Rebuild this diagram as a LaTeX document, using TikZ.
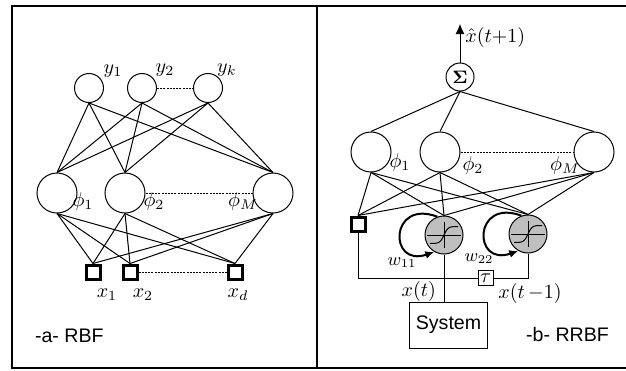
\documentclass[tikz,border=0pt]{standalone}
\usepackage{fontspec}
\setsansfont{Liberation Sans}
\usepackage{amsmath}
\usetikzlibrary{arrows.meta}

\begin{document}
\begin{tikzpicture}[x=0.5pt,y=-0.5pt,
    unit/.style={circle,draw,line width=0.5pt,inner sep=0pt,minimum size=20pt},
    outunit/.style={circle,draw,line width=0.5pt,inner sep=0pt,minimum size=14.5pt},
    inunit/.style={rectangle,draw,line width=1.5pt,inner sep=0pt,minimum size=7pt},
    sigunit/.style={circle,draw,line width=0.5pt,fill=black!25,inner sep=0pt,minimum size=19pt},
    wire/.style={line width=0.5pt},
    dots/.style={line width=0.5pt,dash pattern=on 1pt off 0.6pt},
    loopar/.style={line width=1pt,-{Latex[length=4.5pt,width=4pt]}},
    caption/.style={font=\sffamily\fontsize{9.8}{12}\selectfont}]
    \useasboundingbox (0,0) rectangle (626,370);
    % frame
    \draw[line width=1pt] (626,6) -| (12,368) -- (626,368);
    \draw[line width=1.2pt] (317,6) -- (317,368);

    % -a- RBF
    \node[outunit] (y1) at (89,88) {};
    \node[outunit] (y2) at (142,88) {};
    \node[outunit] (yk) at (208,88) {};
    \node[unit] (h1) at (57,193) {};
    \node[unit] (h2) at (125,193) {};
    \node[unit] (hM) at (273,193) {};
    \node[inunit] (x1) at (93,272) {};
    \node[inunit] (x2) at (130,272) {};
    \node[inunit] (xd) at (235,272) {};
    \foreach \a in {y1,y2,yk}
        \foreach \b in {h1,h2,hM}
            \draw[wire] (\a.south) -- (\b.north);
    \foreach \a in {h1,h2,hM}
        \foreach \b in {x1,x2,xd}
            \draw[wire] (\a.south) -- (\b.north);
    \draw[dots] (y2) -- (yk);
    \draw[dots] (h2) -- (hM);
    \draw[dots] (x2) -- (xd);
    \node (ly1) at (113,71) {$y_1$};
    \node (ly2) at (165,70) {$y_2$};
    \node (lyk) at (227,70) {$y_k$};
    \node (lh1) at (83,201) {$\phi_1$};
    \node (lh2) at (154,201) {$\phi_2$};
    \node (lhM) at (243,201) {$\phi_M$};
    \node (lx1) at (107,295) {$x_1$};
    \node (lx2) at (143,295) {$x_2$};
    \node (lxd) at (238,295) {$x_d$};
    \node[caption,anchor=west] (capa) at (28,336) {-a- RBF};

    % -b- RRBF
    \node[outunit,minimum size=14pt,font=\small] (sum) at (460,77) {$\boldsymbol{\Sigma}$};
    \coordinate (out) at (460,24);
    \draw[wire,-{Latex[length=5pt,width=4.5pt]}] (sum) -- (out);
    \node[anchor=north west,inner sep=0pt] (lout) at (465,27) {$\hat{x}(t{+}1)$};
    \node[unit] (r1) at (371,152) {};
    \node[unit] (r2) at (440,152) {};
    \node[unit] (rM) at (594,152) {};
    \node[inunit] (rin) at (358,224) {};
    \node[sigunit] (n1) at (444,235) {};
    \node[sigunit] (n2) at (528,234) {};
    \node[draw,line width=0.5pt,minimum width=37.5pt,minimum height=23pt,
        font=\sffamily\fontsize{9.8}{12}\selectfont] (sys) at (448.5,325) {System};
    \node[draw,line width=0.5pt,inner sep=0pt,minimum size=7.5pt] (tau) at (485.5,278) {$\tau$};
    \foreach \b in {r1,r2,rM}
        \draw[wire] (sum.south) -- (\b.north);
    \foreach \a in {r1,r2,rM}
        \foreach \b in {rin,n1,n2}
            \draw[wire] (\a.south) -- (\b.north);
    \draw[dots] (r2) -- (rM);
    \draw[wire] (rin.south) |- (tau.west);
    \draw[wire] (tau.east) -| (n2.south);
    \draw[wire] (n1.south) -- (n1 |- sys.north);
    % sigmoid units and their self loops
    \foreach \n in {n1,n2} {
        \draw[wire,shift={(\n.center)}] (-17,0) -- (17,0) (0,-13) -- (0,13);
        \draw[wire,shift={(\n.center)}] plot[domain=-14:14,samples=40,smooth] (\x,{-8.5*tanh(\x/4)});
        \draw[loopar] (\n.110) .. controls +(-48,-18) and +(-46,16) .. (\n.240);
    }
    \node (lr1) at (400,162) {$\phi_1$};
    \node (lr2) at (473,165) {$\phi_2$};
    \node (lrM) at (565,165) {$\phi_M$};
    \node[font=\small,inner sep=0pt] (lw11) at (402,263) {$w_{11}$};
    \node[font=\small,inner sep=0pt] (lw22) at (479,259) {$w_{22}$};
    \node[anchor=east] (lxt) at (443,291) {$x(t)$};
    \node (lxt1) at (530,293) {$x(t\,{-}1)$};
    \node[caption,anchor=east] (capb) at (616,334) {-b- RRBF};
\end{tikzpicture}
\end{document}
